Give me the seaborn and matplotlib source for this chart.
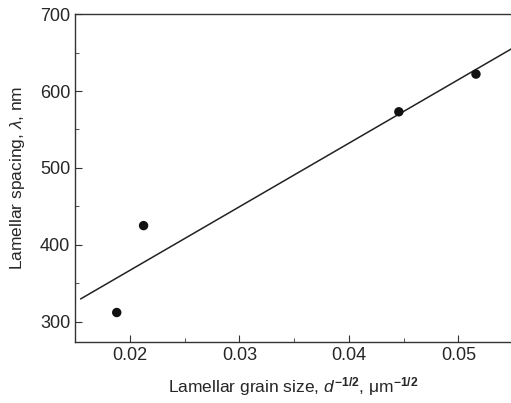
import numpy as np
import pandas as pd
import matplotlib
matplotlib.use("Agg")
import matplotlib.pyplot as plt
from matplotlib.ticker import MultipleLocator
import seaborn as sns

# data
grain_size = [0.0188, 0.02125, 0.04456, 0.0516]   # d^-1/2, um^-1/2
spacing = [312, 425, 573, 622]                      # lambda, nm
fit_range = [0.0155, 0.055]

df = pd.DataFrame({'x': grain_size, 'y': spacing})

# least-squares line through the points
slope, intercept = np.polyfit(df['x'], df['y'], 1)
fit = pd.DataFrame({'x': fit_range})
fit['y'] = slope * fit['x'] + intercept

sns.set_style('ticks')
plt.rcParams['font.family'] = ['Liberation Sans', 'DejaVu Sans']
plt.rcParams['mathtext.fontset'] = 'custom'
plt.rcParams['mathtext.rm'] = 'Liberation Sans'
plt.rcParams['mathtext.it'] = 'Liberation Sans:italic'
plt.rcParams['mathtext.bf'] = 'Liberation Sans:bold'

fig = plt.figure(figsize=(5.11, 4.03), dpi=100)
ax = fig.add_axes([0.147, 0.152, 0.853, 0.813])

sns.lineplot(data=fit, x='x', y='y', ax=ax, color='#222222', lw=1.1)
sns.scatterplot(data=df, x='x', y='y', ax=ax, color='#111111', s=46,
                edgecolor='none', zorder=3)

ax.set_xlim(0.015, 0.0548)
ax.set_ylim(274, 700)
ax.xaxis.set_major_locator(MultipleLocator(0.01))
ax.xaxis.set_minor_locator(MultipleLocator(0.005))
ax.yaxis.set_major_locator(MultipleLocator(100))
ax.yaxis.set_minor_locator(MultipleLocator(50))
ax.set_xticks([0.02, 0.03, 0.04, 0.05])
ax.set_xticklabels(['0.02', '0.03', '0.04', '0.05'])
ax.tick_params(which='both', direction='in', labelsize=13, color='#333333')
ax.tick_params(which='major', length=5)
ax.tick_params(which='minor', length=3)
ax.spines['right'].set_visible(False)
for s in ['left', 'top', 'bottom']:
    ax.spines[s].set_color('#333333')
    ax.spines[s].set_linewidth(1.0)

ax.set_xlabel(r'Lamellar grain size, $\mathit{d}^{\mathbf{-1/2}}$, μm$^{\mathbf{-1/2}}$',
              fontsize=12.5, labelpad=8)
ax.set_ylabel(r'Lamellar spacing, $\mathit{λ}$, nm', fontsize=12.5, labelpad=9)

fig.savefig('out.png', dpi=100)
